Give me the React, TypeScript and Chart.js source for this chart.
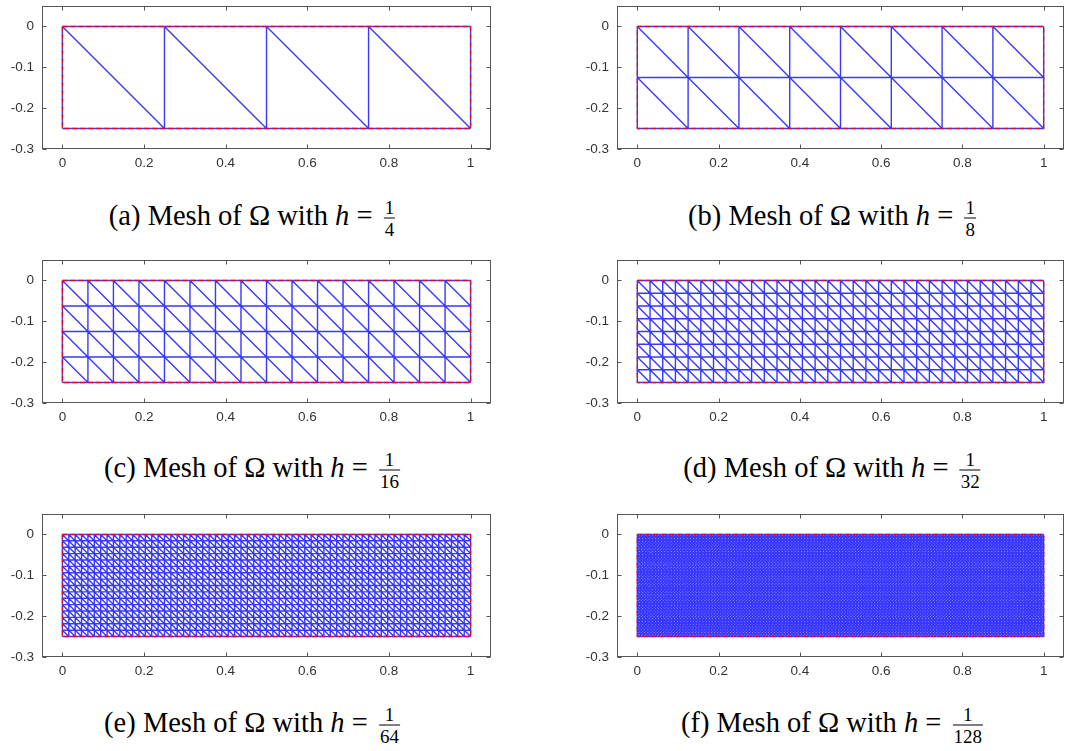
import React, { useEffect, useRef } from 'react';
import { Chart, registerables } from 'chart.js';

Chart.register(...registerables);

// ---- data ----
const panelLetters = ['a', 'b', 'c', 'd', 'e', 'f'];
const meshDivisions = [4, 8, 16, 32, 64, 128]; // 1/h
const domainX = [0, 1];
const domainY = [-0.25, 0];
const xTicks = [0, 0.2, 0.4, 0.6, 0.8, 1];
const yTicks = [0, -0.1, -0.2, -0.3];
const xLimits = [-0.05, 1.05];
const yLimits = [-0.3, 0.05];

type P = { x: number; y: number | null };

function buildMesh(n: number): P[] {
  const [x0, x1] = domainX;
  const [yb, yt] = domainY;
  const h = (x1 - x0) / n;
  const ny = Math.round((yt - yb) / h);
  const pts: P[] = [];
  const gap = () => pts.push({ x: x0, y: null });
  for (let i = 0; i <= n; i++) {
    const x = x0 + i * h;
    pts.push({ x, y: yt }, { x, y: yb });
    gap();
  }
  for (let j = 0; j <= ny; j++) {
    const y = yt - j * h;
    pts.push({ x: x0, y }, { x: x1, y });
    gap();
  }
  for (let k = -(ny - 1); k <= n - 1; k++) {
    const is = Math.max(k, 0);
    const js = Math.max(-k, 0);
    const len = Math.min(n - is, ny - js);
    pts.push({ x: x0 + is * h, y: yt - js * h }, { x: x0 + (is + len) * h, y: yt - (js + len) * h });
    gap();
  }
  return pts;
}

function buildBoundary(): P[] {
  const [x0, x1] = domainX;
  const [yb, yt] = domainY;
  return [
    { x: x0, y: yt },
    { x: x1, y: yt },
    { x: x1, y: yb },
    { x: x0, y: yb },
    { x: x0, y: yt },
  ];
}

const boxPlugin = {
  id: 'matlabBox',
  afterDatasetsDraw(chart: any) {
    const { ctx, chartArea: a, scales } = chart;
    const l = Math.round(a.left) + 0.5;
    const r = Math.round(a.right) - 0.5;
    const t = Math.round(a.top) + 0.5;
    const b = Math.round(a.bottom) - 0.5;
    ctx.save();
    ctx.strokeStyle = '#555555';
    ctx.lineWidth = 1;
    ctx.strokeRect(l, t, r - l, b - t);
    ctx.beginPath();
    for (const v of xTicks) {
      const px = Math.round(scales.x.getPixelForValue(v)) + 0.5;
      ctx.moveTo(px, b);
      ctx.lineTo(px, b - 4);
      ctx.moveTo(px, t);
      ctx.lineTo(px, t + 4);
    }
    for (const v of yTicks) {
      const py = Math.round(scales.y.getPixelForValue(v)) + 0.5;
      ctx.moveTo(l, py);
      ctx.lineTo(l + 4, py);
      ctx.moveTo(r, py);
      ctx.lineTo(r - 4, py);
    }
    ctx.stroke();
    ctx.restore();
  },
};

const tickFont = { family: '"Liberation Sans", Arial, sans-serif', size: 13.5 };

function MeshPanel(props: {
  n: number;
  left: number;
  top: number;
  width: number;
  height: number;
  axisWidth: number;
  padRight: number;
}) {
  const ref = useRef<HTMLCanvasElement | null>(null);
  useEffect(() => {
    if (!ref.current) return;
    const chart = new Chart(ref.current, {
      type: 'scatter',
      data: {
        datasets: [
          {
            data: buildBoundary(),
            showLine: true,
            borderColor: 'rgba(255,0,0,0.8)',
            borderWidth: 1.4,
            borderDash: [5, 3],
            pointRadius: 0,
            spanGaps: false,
          } as any,
          {
            data: buildMesh(props.n),
            showLine: true,
            borderColor: 'rgba(0,0,255,0.78)',
            borderWidth: 1.4,
            pointRadius: 0,
            spanGaps: false,
          } as any,
        ],
      },
      options: {
        animation: false,
        responsive: false,
        events: [],
        layout: { padding: { top: 6, right: props.padRight, left: 0, bottom: 0 } },
        plugins: { legend: { display: false }, tooltip: { enabled: false } },
        scales: {
          x: {
            type: 'linear',
            min: xLimits[0],
            max: xLimits[1],
            afterBuildTicks: (s: any) => {
              s.ticks = xTicks.map((value) => ({ value }));
            },
            afterFit: (s: any) => {
              s.height = props.height - 6 - 143;
              s.paddingLeft = 0;
              s.paddingRight = 0;
            },
            ticks: {
              callback: (v: any) => String(v),
              font: tickFont,
              color: '#333333',
              padding: 6,
              maxRotation: 0,
              autoSkip: false,
            },
            grid: { display: false, drawTicks: false },
            border: { display: false },
          },
          y: {
            type: 'linear',
            min: yLimits[0],
            max: yLimits[1],
            afterBuildTicks: (s: any) => {
              s.ticks = yTicks.map((value) => ({ value }));
            },
            afterFit: (s: any) => {
              s.width = props.axisWidth;
              s.paddingTop = 0;
              s.paddingBottom = 0;
            },
            ticks: {
              callback: (v: any) => String(v),
              font: tickFont,
              color: '#333333',
              padding: 8,
              autoSkip: false,
            },
            grid: { display: false, drawTicks: false },
            border: { display: false },
          },
        },
      } as any,
      plugins: [boxPlugin],
    });
    return () => chart.destroy();
  }, []);
  return (
    <canvas
      ref={ref}
      width={props.width}
      height={props.height}
      style={{ position: 'absolute', left: props.left, top: props.top, width: props.width, height: props.height }}
    />
  );
}

function Caption(props: { letter: string; n: number; cx: number; cy: number }) {
  return (
    <div
      style={{
        position: 'absolute',
        left: props.cx,
        top: props.cy,
        transform: 'translate(-50%, -50%)',
        fontFamily: '"Liberation Serif", "Times New Roman", serif',
        fontSize: 28.5,
        whiteSpace: 'nowrap',
        display: 'flex',
        alignItems: 'center',
        color: '#000',
        lineHeight: 1,
      }}
    >
      <span>
        ({props.letter}) Mesh of Ω with <i>h</i>&nbsp;=&nbsp;
      </span>
      <span
        style={{
          display: 'inline-flex',
          flexDirection: 'column',
          alignItems: 'center',
          fontSize: 19,
          lineHeight: 1,
          marginLeft: 4,
          position: 'relative',
          top: 2,
        }}
      >
        <span style={{ padding: '0 1px 1px' }}>1</span>
        <span style={{ borderTop: '1px solid #000', padding: '1px 1px 0', alignSelf: 'stretch', textAlign: 'center' }}>
          {props.n}
        </span>
      </span>
    </div>
  );
}

const rowTops = [0, 254, 508];
const captionYs = [216, 468, 722.5];

export default function App() {
  return (
    <div style={{ position: 'absolute', left: 0, top: 0, width: 1066, height: 751, background: '#fff' }}>
      {meshDivisions.map((n, idx) => {
        const row = Math.floor(idx / 2);
        const col = idx % 2;
        const left = col === 0 ? 0 : 560;
        const width = col === 0 ? 533 : 506;
        const axisWidth = col === 0 ? 42 : 57;
        const padRight = col === 0 ? 42 : 2;
        return (
          <React.Fragment key={n}>
            <MeshPanel
              n={n}
              left={left}
              top={rowTops[row]}
              width={width}
              height={180}
              axisWidth={axisWidth}
              padRight={padRight}
            />
            <Caption letter={panelLetters[idx]} n={n} cx={col === 0 ? 252 : 832} cy={captionYs[row]} />
          </React.Fragment>
        );
      })}
    </div>
  );
}
